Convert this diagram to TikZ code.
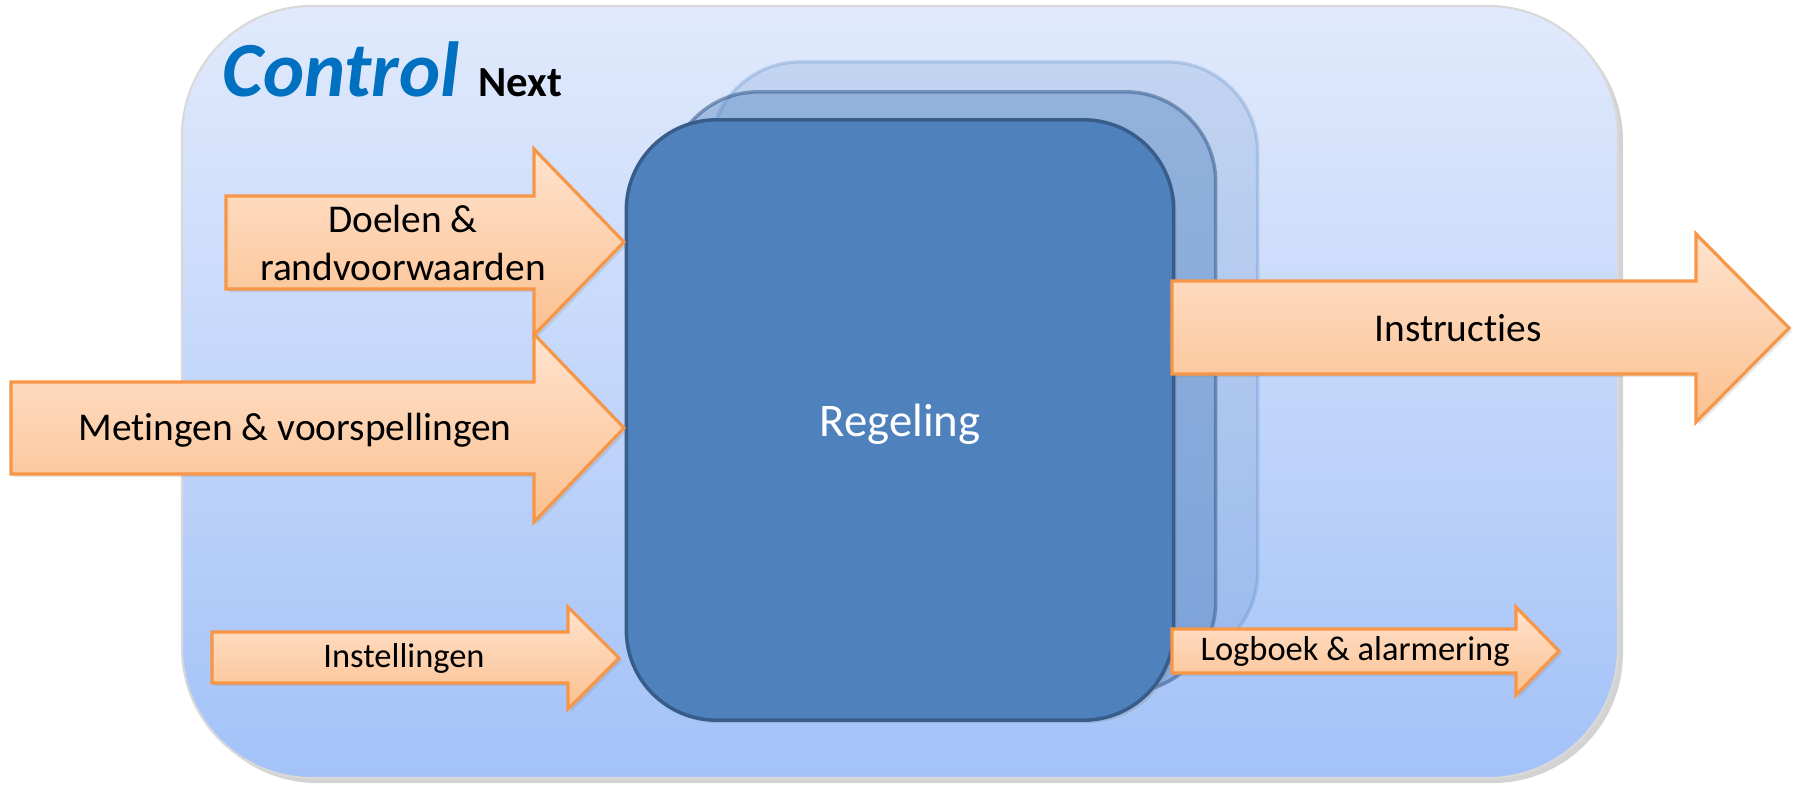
\documentclass[tikz,border=0pt]{standalone}
\usepackage{fontspec}
\setmainfont{Carlito}[Ligatures=CommonOff]
\usepackage{tikz}
\usetikzlibrary{positioning,shadows}
\definecolor{paneltop}{RGB}{225,234,252}
\definecolor{panelbot}{RGB}{163,194,248}
\definecolor{regblue}{RGB}{79,129,189}
\definecolor{regedge}{RGB}{56,93,138}
\definecolor{arrowtop}{RGB}{255,227,206}
\definecolor{arrowbot}{RGB}{251,192,143}
\definecolor{arrowedge}{RGB}{247,150,70}
\definecolor{brandblue}{RGB}{0,112,192}
\tikzstyle{panel}=[draw=white!70!gray, line width=0.6pt, top color=paneltop, bottom color=panelbot, rounded corners=1.3cm, drop shadow={shadow xshift=0.05cm, shadow yshift=-0.05cm, opacity=0.35}]
\tikzstyle{stackbox}=[rectangle, rounded corners=0.9cm, minimum width=5.47cm, minimum height=6cm, line width=1pt]
\tikzstyle{backlayer}=[stackbox, fill=regblue, fill opacity=0.18, draw=regblue, draw opacity=0.25]
\tikzstyle{midlayer}=[stackbox, fill=regblue, fill opacity=0.4, draw=regedge, draw opacity=0.55]
\tikzstyle{regbox}=[stackbox, fill=regblue, draw=regedge, text=white, text depth=0pt, font=\fontsize{13.3}{16}\selectfont, drop shadow={shadow xshift=0.03cm, shadow yshift=-0.03cm, opacity=0.25}]
\tikzstyle{blockarrow}=[draw=arrowedge, line width=0.9pt, top color=arrowtop, bottom color=arrowbot, drop shadow={shadow xshift=0.03cm, shadow yshift=-0.03cm, opacity=0.2}]
\tikzstyle{biglbl}=[inner sep=0pt, align=center, font=\fontsize{11.2}{13.7}\selectfont]
\tikzstyle{smalllbl}=[inner sep=0pt, font=\fontsize{9.8}{12}\selectfont]

\begin{document}
\begin{tikzpicture}[x=0.01cm, y=-0.01cm]
\useasboundingbox (0,0) rectangle (1801,785);

% background panel
\draw[panel] (182,6) rectangle (1618,778);

\node[inner sep=0pt, anchor=base west, text=brandblue, font=\fontsize{22.2}{26}\selectfont\bfseries\itshape] (control) at (222,97) {Control};
\node[inner sep=0pt, right=0.17cm of control.base east, anchor=base west, font=\fontsize{12.2}{14}\selectfont\bfseries] (next) {Next};

% stacked boxes
\node[backlayer] (layerB) at (984,362) {};
\node[midlayer]  (layerA) at (942,392) {};
\node[regbox]    (regeling) at (900,420) {Regeling};

% inputs
\draw[blockarrow] (11,382) -- (534,382) -- (534,334) -- (624,428) -- (534,522) -- (534,474) -- (11,474) -- cycle;
\draw[blockarrow] (226,196) -- (534,196) -- (534,149) -- (624,242) -- (534,335) -- (534,289) -- (226,289) -- cycle;
\draw[blockarrow] (212,632) -- (568,632) -- (568,607) -- (619,658) -- (568,709) -- (568,683) -- (212,683) -- cycle;

% outputs
\draw[blockarrow] (1172,281) -- (1696,281) -- (1696,234) -- (1789,328) -- (1696,422) -- (1696,374) -- (1172,374) -- cycle;
\draw[blockarrow] (1172,629) -- (1516,629) -- (1516,607) -- (1559,651) -- (1516,695) -- (1516,673) -- (1172,673) -- cycle;

\node[biglbl] (doelen) at (403,243) {Doelen \&\\randvoorwaarden};
\node[biglbl] (metingen) at (295,430) {Metingen \& voorspellingen};
\node[smalllbl] (instellingen) at (404,658) {Instellingen};
\node[biglbl] (instructies) at (1458,328) {Instructies};
\node[smalllbl] (logboek) at (1355,651) {Logboek \& alarmering};

\end{tikzpicture}
\end{document}
